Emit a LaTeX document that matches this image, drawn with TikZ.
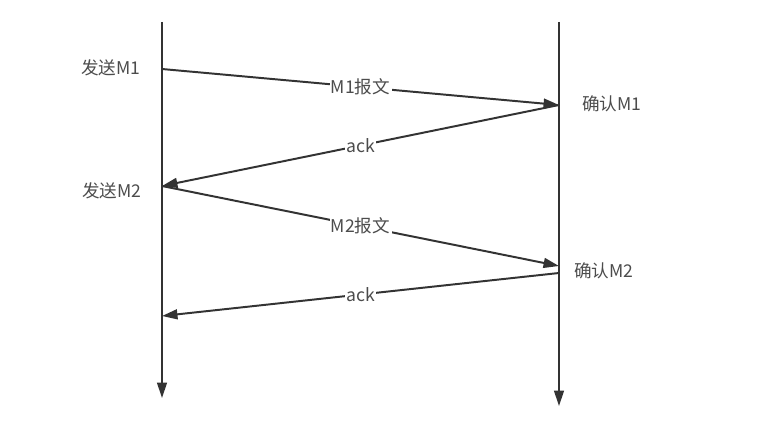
\documentclass[tikz,border=0pt]{standalone}
\usepackage{fontspec}
\setmainfont{Noto Sans CJK SC}
\usetikzlibrary{arrows.meta}
\begin{document}
\begin{tikzpicture}[x=0.025cm,y=-0.025cm,
    line/.style={draw=black!80, line width=1.4pt},
    msg/.style={line, -{Triangle[length=11pt,width=7pt]}},
    lbl/.style={fill=white, inner sep=1pt, text=black!70, font=\fontsize{12.5}{14}\selectfont},
    side/.style={text=black!70, font=\fontsize{12.5}{14}\selectfont}]
\useasboundingbox (0,0) rectangle (774,425);

% lifelines
\coordinate (atop) at (162,22);
\coordinate (abot) at (162,398);
\coordinate (btop) at (559,22);
\coordinate (bbot) at (559,406);
\draw[msg] (atop) -- (abot);
\draw[msg] (btop) -- (bbot);

% points on the lifelines
\coordinate (a1) at (162,69);
\coordinate (b1) at (559,105);
\coordinate (a2) at (162,186);
\coordinate (b2) at (559,266);
\coordinate (b3) at (559,273);
\coordinate (a3) at (162,316);

\node[side] (send1) at (111,68)  {发送M1};
\node[side] (ack1)  at (612,104) {确认M1};
\node[side] (send2) at (112,191) {发送M2};
\node[side] (ack2)  at (604,271) {确认M2};

\draw[msg] (a1) -- node[lbl] (m1) {M1报文} (b1);
\draw[msg] (b1) -- node[lbl] (k1) {ack} (a2);
\draw[msg] (a2) -- node[lbl] (m2) {M2报文} (b2);
\draw[msg] (b3) -- node[lbl] (k2) {ack} (a3);
\end{tikzpicture}
\end{document}
